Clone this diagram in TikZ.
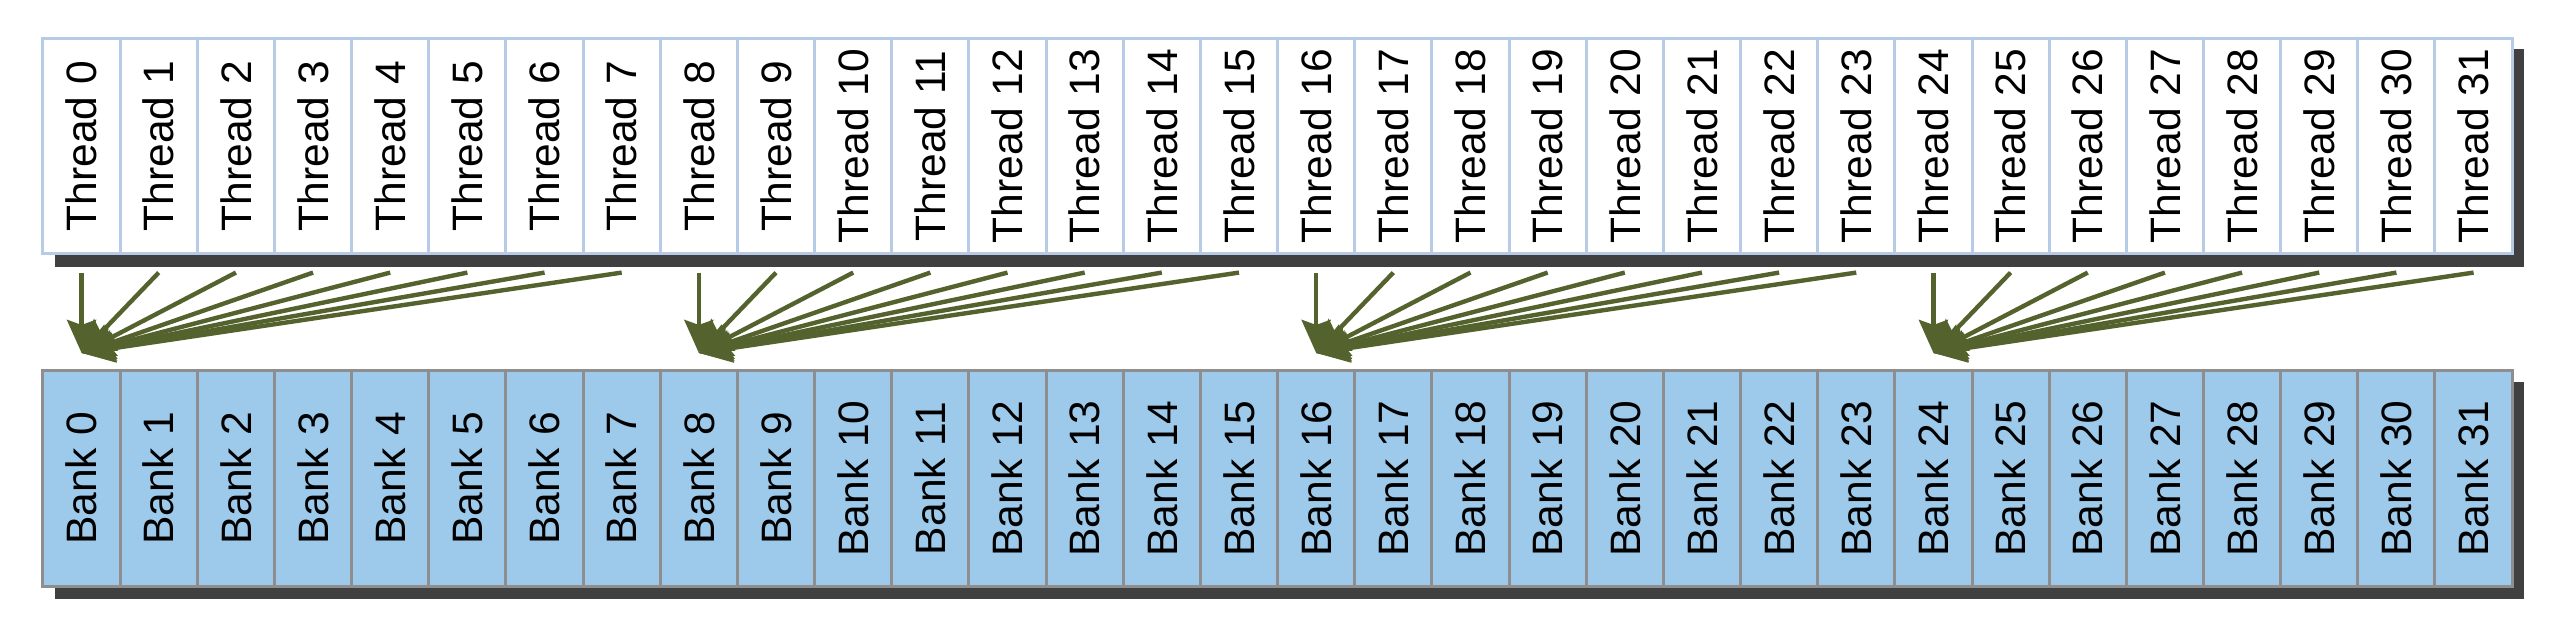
\documentclass[tikz,border=0pt]{standalone}
\usepackage{fontspec}
\setmainfont{Liberation Sans}
\usepackage{graphicx}
\usetikzlibrary{arrows.meta,calc}
\definecolor{shadowc}{RGB}{64,64,64}
\definecolor{threadborder}{RGB}{184,203,230}
\definecolor{bankfill}{RGB}{157,201,234}
\definecolor{bankborder}{RGB}{142,142,142}
\definecolor{arrowc}{RGB}{84,99,46}
\begin{document}
\begin{tikzpicture}[x=0.01cm,y=-0.01cm,
  cellbox/.style={minimum width=0.7716cm, minimum height=2.15cm, inner sep=0pt, outer sep=0pt, line width=0.85pt, font=\fontsize{12.1}{14}\selectfont},
  threadcell/.style={cellbox, draw=threadborder, fill=white},
  bankcell/.style={cellbox, draw=bankborder, fill=bankfill},
  shadowbox/.style={fill=shadowc},
  arr/.style={draw=arrowc, line width=1.25pt, -{Stealth[length=0.33cm, width=0.29cm, inset=0.05cm, fill=arrowc]}}
]
\useasboundingbox[fill=white] (0,0) rectangle (2576,620);
% shadows
\fill[shadowbox] (55,49) rectangle (2524,267);
\fill[shadowbox] (55,382) rectangle (2524,599);
% cells
\foreach \i in {0,...,31}{
  \pgfmathsetmacro\cx{43+77.16*(\i+0.5)}
  \node[threadcell] (t\i) at (\cx,146) {\rotatebox{90}{Thread \i}};
  \node[bankcell] (b\i) at (\cx,478.5) {\rotatebox{90}{Bank \i}};
}
% arrows
\foreach \g in {0,8,16,24}{
  \foreach \k in {0,...,7}{
    \pgfmathtruncatemacro\i{\g+\k}
    \draw[arr] ($(t\i.south)+(0,19)$) -- ($(b\g.north)+(0,-18)$);
  }
}
\end{tikzpicture}
\end{document}
